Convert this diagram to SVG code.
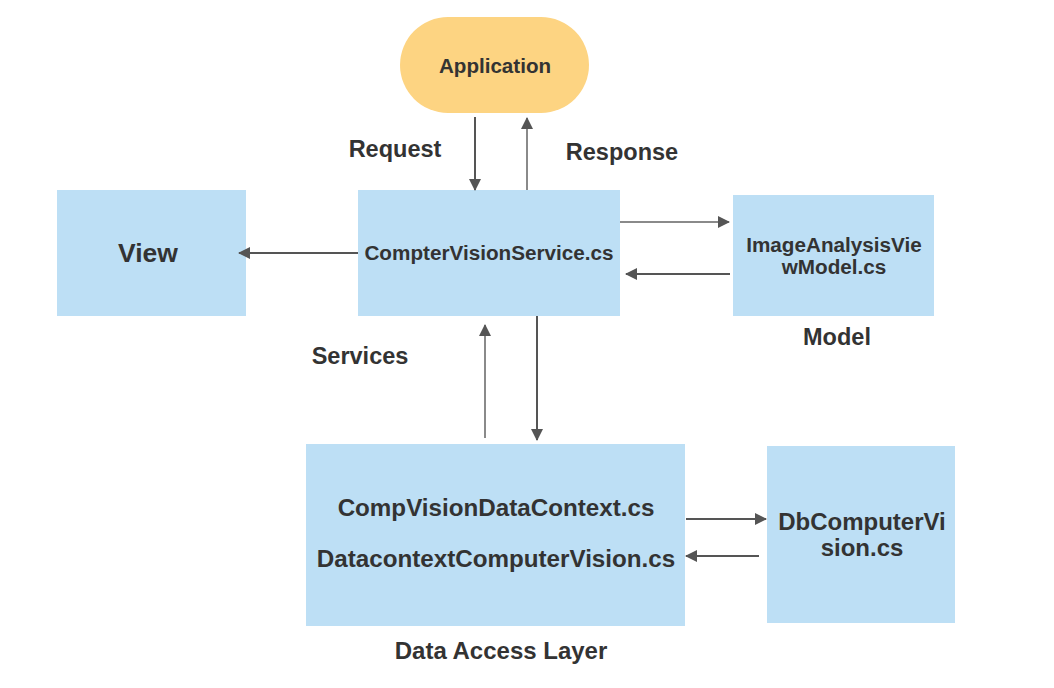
<svg xmlns="http://www.w3.org/2000/svg" width="1054" height="688" viewBox="0 0 1054 688">
<defs>
<marker id="ah" markerWidth="12" markerHeight="12" refX="11" refY="6" orient="auto" markerUnits="userSpaceOnUse">
<path d="M0,0 L12,6 L0,12 z" fill="#555"/>
</marker>
<style>
.box{fill:#BDDFF5;}
.app{fill:#FDD482;}
.t{font-family:"Liberation Sans",Arial,sans-serif;font-weight:bold;fill:#333;text-anchor:middle;}
.c{stroke:#555;stroke-width:2;fill:none;marker-end:url(#ah);}
.cl{stroke:#8a8a8a;stroke-width:2;fill:none;marker-end:url(#ah);}
</style>
</defs>
<rect width="1054" height="688" fill="#fff"/>
<g id="application">
<rect class="app" x="400" y="17" width="189" height="96" rx="48" ry="48"/>
<text class="t" x="495" y="73" font-size="20.6">Application</text>
</g>
<g id="service">
<rect class="box" x="358" y="190" width="262" height="126"/>
<text class="t" x="489" y="260" font-size="20.7">CompterVisionService.cs</text>
</g>
<g id="view">
<rect class="box" x="57" y="190" width="189" height="126"/>
<text class="t" x="148" y="262" font-size="26.5">View</text>
</g>
<g id="model">
<rect class="box" x="733" y="195" width="201" height="121"/>
<text class="t" x="834" y="252" font-size="20.7">ImageAnalysisVie</text>
<text class="t" x="834" y="274" font-size="20.7">wModel.cs</text>
</g>
<g id="dal">
<rect class="box" x="306" y="444" width="379" height="182"/>
<text class="t" x="496" y="516" font-size="24.2">CompVisionDataContext.cs</text>
<text class="t" x="496" y="567" font-size="24.2">DatacontextComputerVision.cs</text>
</g>
<g id="db">
<rect class="box" x="767" y="446" width="188" height="177"/>
<text class="t" x="862" y="530" font-size="24">DbComputerVi</text>
<text class="t" x="862" y="556" font-size="24">sion.cs</text>
</g>
<g id="labels">
<text class="t" x="395" y="157" font-size="23.5">Request</text>
<text class="t" x="622" y="160" font-size="23.5">Response</text>
<text class="t" x="360" y="364" font-size="23.5">Services</text>
<text class="t" x="837" y="345" font-size="23.5">Model</text>
<text class="t" x="501" y="659" font-size="24">Data Access Layer</text>
</g>
<g id="connectors">
<line class="c" x1="475" y1="117" x2="475" y2="190"/>
<line class="cl" x1="527" y1="190" x2="527" y2="118"/>
<line class="c" x1="358" y1="253" x2="239" y2="253"/>
<line class="cl" x1="620" y1="222" x2="729" y2="222"/>
<line class="c" x1="730" y1="274" x2="626" y2="274"/>
<line class="cl" x1="485" y1="438" x2="485" y2="325"/>
<line class="c" x1="537" y1="316" x2="537" y2="440"/>
<line class="c" x1="686" y1="519" x2="766" y2="519"/>
<line class="c" x1="759" y1="556" x2="686" y2="556"/>
</g>
</svg>
